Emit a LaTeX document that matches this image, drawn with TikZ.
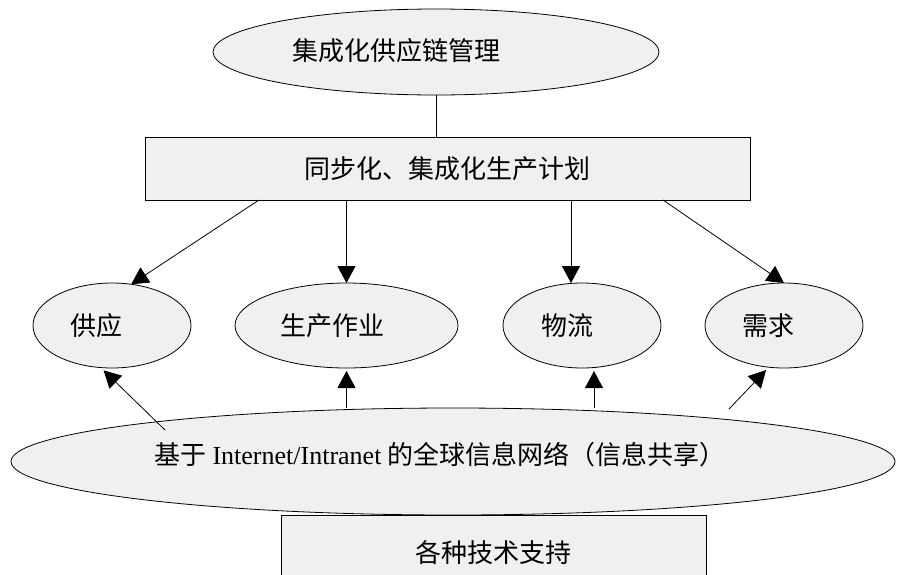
\documentclass[tikz,border=0pt]{standalone}
\usepackage{fontspec}
\setmainfont{Liberation Serif}
\newfontfamily\cjk{Noto Sans CJK SC}
\usetikzlibrary{shapes.geometric,arrows.meta}
\definecolor{boxgray}{RGB}{240,240,240}
\begin{document}
\begin{tikzpicture}[x=1pt,y=-1pt,
  every node/.style={inner sep=0pt,outer sep=0pt},
  oval/.style={ellipse,draw,fill=boxgray,line width=0.8pt},
  rect/.style={rectangle,draw,fill=boxgray,line width=0.8pt},
  lbl/.style={font=\cjk\fontsize{26}{30}\selectfont},
  conn/.style={line width=0.8pt},
  arr/.style={line width=0.8pt,-{Triangle[length=17pt,width=18pt]}}]
\useasboundingbox (0,0) rectangle (900,574);

% top ellipse
\node[oval,minimum width=446pt,minimum height=86pt] (top) at (436,52) {};
\node[lbl] (toptext) at (396,51) {集成化供应链管理};

% plan box
\node[rect,lbl,minimum width=605pt,minimum height=63pt] (plan) at (447.5,168.5) {同步化、集成化生产计划};

% middle row
\node[oval,minimum width=158pt,minimum height=85pt] (supply) at (112,325.5) {};
\node[lbl] (supplyt) at ([xshift=-16pt]supply.center) {供应};
\node[oval,minimum width=223pt,minimum height=85pt] (prod) at (346.5,325.5) {};
\node[lbl] (prodt) at ([xshift=-14pt]prod.center) {生产作业};
\node[oval,minimum width=158pt,minimum height=85pt] (logi) at (582,325.5) {};
\node[lbl] (logit) at ([xshift=-15pt]logi.center) {物流};
\node[oval,minimum width=158pt,minimum height=85pt] (demand) at (784,325.5) {};
\node[lbl] (demandt) at ([xshift=-16pt]demand.center) {需求};

% network ellipse
\node[oval,minimum width=884pt,minimum height=107pt] (net) at (453,461.5) {};
\node[lbl] (nett) at (440,455) {基于 {\fontspec{Liberation Serif}Internet/Intranet} 的全球信息网络（信息共享）};

% support box
\node[rect,lbl,anchor=north,minimum width=425pt,minimum height=76pt] (support) at (493.5,515) {各种技术支持};

% connectors
\draw[conn] (top.south) -- (top.south |- plan.north);

\draw[arr] ([xshift=-188.5pt]plan.south) -- (supply.65);
\draw[arr] (prod.north |- plan.south) -- (prod.north);
\coordinate (lt) at ([xshift=-11pt]logi.north);
\draw[arr] (lt |- plan.south) -- (lt);
\draw[arr] ([xshift=215.5pt]plan.south) -- (demand.north);

\coordinate (sb) at (165,430);
\draw[arr,shorten >=4pt] (sb) -- (supply.255);
\draw[arr,shorten >=3pt] (prod.south |- net.north) -- (prod.south);
\coordinate (lb) at ([xshift=12pt]logi.south);
\draw[arr,shorten >=3pt] (lb |- net.north) -- (lb);
\coordinate (db) at (729,409);
\draw[arr,shorten >=4pt] (db) -- (demand.250);
\end{tikzpicture}
\end{document}
